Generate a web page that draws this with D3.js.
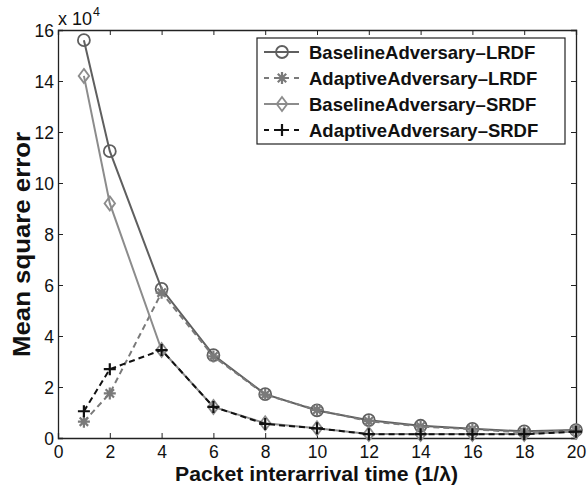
<!DOCTYPE html>
<html>
<head>
<meta charset="utf-8">
<script src="https://cdn.jsdelivr.net/npm/d3@7"></script>
<style>
  html, body { margin: 0; padding: 0; background: #fff; }
  svg { display: block; font-family: 'Liberation Sans', Arial, Helvetica, sans-serif; }
</style>
</head>
<body>
<svg id="chart" width="587" height="489"></svg>
<script>
// packet interarrival time on x, mean square error (x 10^4) on y
var xValues = [1, 2, 4, 6, 8, 10, 12, 14, 16, 18, 20];
var baselineLRDF = [15.6, 11.25, 5.85, 3.25, 1.72, 1.08, 0.70, 0.48, 0.36, 0.26, 0.31];
var adaptiveLRDF = [0.64, 1.75, 5.7, 3.2, 1.7, 1.1, 0.66, 0.45, 0.34, 0.22, 0.30];
var baselineSRDF = [14.2, 9.2, 3.45, 1.22, 0.58, 0.38, 0.16, 0.16, 0.16, 0.16, 0.25];
var adaptiveSRDF = [1.05, 2.7, 3.45, 1.22, 0.55, 0.38, 0.15, 0.15, 0.15, 0.15, 0.25];
var xTicks = [0, 2, 4, 6, 8, 10, 12, 14, 16, 18, 20];
var yTicks = [0, 2, 4, 6, 8, 10, 12, 14, 16];

var series = [
    { name: 'BaselineAdversary\u2013LRDF', values: baselineLRDF, color: '#5f5f5f', dash: null, marker: 'circle' },
    { name: 'AdaptiveAdversary\u2013LRDF', values: adaptiveLRDF, color: '#7a7a7a', dash: '6,4', marker: 'star' },
    { name: 'BaselineAdversary\u2013SRDF', values: baselineSRDF, color: '#8c8c8c', dash: null, marker: 'diamond' },
    { name: 'AdaptiveAdversary\u2013SRDF', values: adaptiveSRDF, color: '#111111', dash: '6,4', marker: 'plus' }
];

var svg = d3.select('#chart');
var L = { left: 58, right: 576, top: 30, bottom: 438 };

var x = d3.scaleLinear().domain([0, 20]).range([L.left, L.right]);
var y = d3.scaleLinear().domain([0, 16]).range([L.bottom, L.top]);

var frameColor = '#222';
var TICK = 5;

// axes: ticks pointing inward, matlab style box
var gx = svg.append('g').attr('transform', 'translate(0,' + L.bottom + ')')
    .call(d3.axisBottom(x).tickValues(xTicks).tickSize(-TICK).tickPadding(8));
var gxTop = svg.append('g').attr('transform', 'translate(0,' + L.top + ')')
    .call(d3.axisTop(x).tickValues(xTicks).tickSize(-TICK).tickFormat(''));
var gy = svg.append('g').attr('transform', 'translate(' + L.left + ',0)')
    .call(d3.axisLeft(y).tickValues(yTicks).tickSize(-TICK).tickPadding(4));
var gyRight = svg.append('g').attr('transform', 'translate(' + L.right + ',0)')
    .call(d3.axisRight(y).tickValues(yTicks).tickSize(-TICK).tickFormat(''));

[gx, gxTop, gy, gyRight].forEach(function (g) {
    g.select('.domain').attr('stroke', frameColor).attr('stroke-width', 1.3);
    g.selectAll('.tick line').attr('stroke', frameColor).attr('stroke-width', 1);
    g.selectAll('.tick text').attr('fill', '#111').attr('font-size', 17.5)
        .attr('font-family', "'Liberation Sans', Arial, sans-serif");
});
gy.selectAll('.tick text').attr('dy', '0.35em');

// exponent label
var expo = svg.append('text').attr('x', L.left).attr('y', 25)
    .attr('font-size', 18).attr('fill', '#111');
expo.append('tspan').text('x 10');
expo.append('tspan').attr('dy', -9).attr('dx', 1).attr('font-size', 12.5).text('4');

// axis titles
svg.append('text')
    .attr('x', 175).attr('y', 481)
    .attr('textLength', 283).attr('lengthAdjust', 'spacingAndGlyphs')
    .attr('font-size', 20).attr('font-weight', 'bold').attr('fill', '#111')
    .text('Packet interarrival time (1/\u03bb)');
svg.append('text')
    .attr('transform', 'translate(30,357) rotate(-90)')
    .attr('textLength', 225).attr('lengthAdjust', 'spacingAndGlyphs')
    .attr('font-size', 23).attr('font-weight', 'bold').attr('fill', '#111')
    .text('Mean square error');

function drawMarker(g, type, cx, cy, color) {
    if (type === 'circle') {
        g.append('circle').attr('cx', cx).attr('cy', cy).attr('r', 6)
            .attr('fill', 'none').attr('stroke', color).attr('stroke-width', 1.8);
    } else if (type === 'diamond') {
        var s = 7;
        g.append('path')
            .attr('d', 'M' + cx + ',' + (cy - s) + 'L' + (cx + s * 0.75) + ',' + cy +
                'L' + cx + ',' + (cy + s) + 'L' + (cx - s * 0.75) + ',' + cy + 'Z')
            .attr('fill', 'none').attr('stroke', color).attr('stroke-width', 1.8);
    } else if (type === 'plus') {
        var p = 6;
        g.append('path')
            .attr('d', 'M' + (cx - p) + ',' + cy + 'H' + (cx + p) + 'M' + cx + ',' + (cy - p) + 'V' + (cy + p))
            .attr('stroke', color).attr('stroke-width', 2.2);
    } else if (type === 'star') {
        var a = 6, d = a * 0.7;
        g.append('path')
            .attr('d', 'M' + (cx - a) + ',' + cy + 'H' + (cx + a) +
                'M' + cx + ',' + (cy - a) + 'V' + (cy + a) +
                'M' + (cx - d) + ',' + (cy - d) + 'L' + (cx + d) + ',' + (cy + d) +
                'M' + (cx - d) + ',' + (cy + d) + 'L' + (cx + d) + ',' + (cy - d))
            .attr('stroke', color).attr('stroke-width', 2.2);
    }
}

var line = d3.line()
    .x(function (d) { return x(d[0]); })
    .y(function (d) { return y(d[1]); });

series.forEach(function (s) {
    var pts = xValues.map(function (v, i) { return [v, s.values[i]]; });
    var g = svg.append('g');
    g.append('path').datum(pts)
        .attr('d', line)
        .attr('fill', 'none')
        .attr('stroke', s.color)
        .attr('stroke-width', 2)
        .attr('stroke-dasharray', s.dash);
    pts.forEach(function (p) { drawMarker(g, s.marker, x(p[0]), y(p[1]), s.color); });
});

// legend
var leg = { x: 257, y: 38, w: 308, h: 106, row: 26 };
var gl = svg.append('g');
gl.append('rect').attr('x', leg.x).attr('y', leg.y).attr('width', leg.w).attr('height', leg.h)
    .attr('fill', '#fff').attr('stroke', frameColor).attr('stroke-width', 1.2);
series.forEach(function (s, i) {
    var cy = leg.y + 14 + i * leg.row;
    gl.append('line').attr('x1', leg.x + 7).attr('x2', leg.x + 42)
        .attr('y1', cy).attr('y2', cy)
        .attr('stroke', s.color).attr('stroke-width', 2)
        .attr('stroke-dasharray', s.dash ? '5,5' : null);
    drawMarker(gl, s.marker, leg.x + 25, cy, s.color);
    gl.append('text').attr('x', leg.x + 52).attr('y', cy).attr('dy', '0.36em')
        .attr('font-size', 18.5).attr('font-weight', 'bold').attr('fill', '#111')
        .text(s.name);
});
</script>
</body>
</html>
